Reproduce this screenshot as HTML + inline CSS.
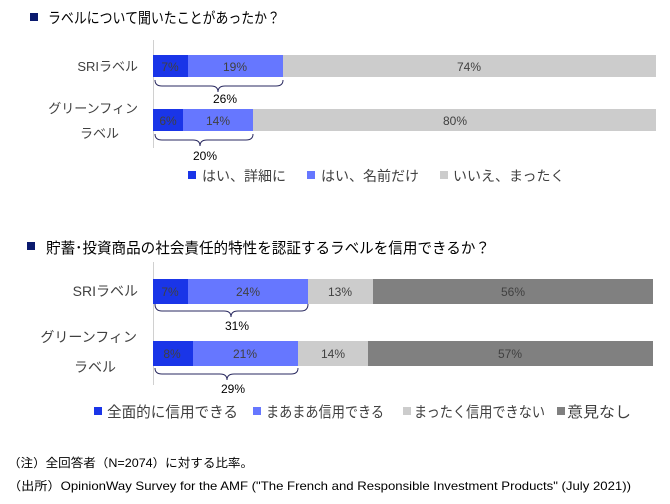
<!DOCTYPE html>
<html><head><meta charset="utf-8"><style>
html,body{margin:0;padding:0;background:#fff;}
svg{display:block;font-family:"Liberation Sans","Noto Sans CJK JP",sans-serif;}
</style></head><body>
<svg width="670" height="504" viewBox="0 0 670 504" xmlns="http://www.w3.org/2000/svg">
<rect x="30" y="13" width="8" height="8" fill="#0a1a6e"/>
<text x="48" y="23" font-size="15" fill="#000" textLength="232" lengthAdjust="spacingAndGlyphs">ラベルについて聞いたことがあったか？</text>
<line x1="153.5" y1="40" x2="153.5" y2="148" stroke="#d0d0d0" stroke-width="1"/>
<rect x="153" y="55" width="35" height="22" fill="#1a35e8"/>
<rect x="188" y="55" width="95" height="22" fill="#6677ff"/>
<rect x="283" y="55" width="373" height="22" fill="#cccccc"/>
<g font-size="12" fill="#404040" text-anchor="middle">
<text x="170" y="71">7%</text><text x="235" y="71">19%</text><text x="469" y="71">74%</text>
</g>
<rect x="153" y="109" width="30" height="22" fill="#1a35e8"/>
<rect x="183" y="109" width="70" height="22" fill="#6677ff"/>
<rect x="253" y="109" width="403" height="22" fill="#cccccc"/>
<g font-size="12" fill="#404040" text-anchor="middle">
<text x="168" y="125">6%</text><text x="218" y="125">14%</text><text x="455" y="125">80%</text>
</g>
<g font-size="13" fill="#404040" text-anchor="end">
<text x="138" y="71">SRIラベル</text>
<text x="138" y="113">グリーンフィン</text>
<text x="119" y="138">ラベル</text>
</g>
<g fill="none" stroke="#2a2a60" stroke-width="1">
<path d="M155,80 Q155,86 162,86 L211,86 Q218,86 218,92 Q218,86 225,86 L276,86 Q283,86 283,80"/>
<path d="M155,134 Q155,140 162,140 L193,140 Q200,140 200,146 Q200,140 207,140 L246,140 Q253,140 253,134"/>
<path d="M155,304 Q155,311 162,311 L224,311 Q231,311 231,317 Q231,311 238,311 L301,311 Q308,311 308,304"/>
<path d="M155,368 Q155,374 162,374 L220,374 Q227,374 227,380 Q227,374 234,374 L291,374 Q298,374 298,368"/>
</g>
<g font-size="12" fill="#000" text-anchor="middle">
<text x="225" y="103">26%</text><text x="205" y="160">20%</text>
<text x="237" y="330">31%</text><text x="233" y="393">29%</text>
</g>
<g font-size="14" fill="#404040">
<rect x="188" y="171" width="8" height="8" fill="#1a35e8"/><text x="202" y="181">はい、詳細に</text>
<rect x="307" y="171" width="8" height="8" fill="#6677ff"/><text x="321" y="181">はい、名前だけ</text>
<rect x="440" y="171" width="8" height="8" fill="#cccccc"/><text x="453" y="181">いいえ、まったく</text>
</g>
<rect x="27" y="242" width="8" height="8" fill="#0a1a6e"/>
<text x="46" y="253" font-size="15" fill="#000" textLength="444" lengthAdjust="spacingAndGlyphs">貯蓄･投資商品の社会責任的特性を認証するラベルを信用できるか？</text>
<line x1="153.5" y1="262" x2="153.5" y2="385" stroke="#d0d0d0" stroke-width="1"/>
<rect x="153" y="279" width="35" height="25" fill="#1a35e8"/>
<rect x="188" y="279" width="120" height="25" fill="#6677ff"/>
<rect x="308" y="279" width="65" height="25" fill="#cccccc"/>
<rect x="373" y="279" width="280" height="25" fill="#808080"/>
<g font-size="12" fill="#404040" text-anchor="middle">
<text x="170" y="296">7%</text><text x="248" y="296">24%</text><text x="340" y="296">13%</text><text x="513" y="296">56%</text>
</g>
<rect x="153" y="341" width="40" height="25" fill="#1a35e8"/>
<rect x="193" y="341" width="105" height="25" fill="#6677ff"/>
<rect x="298" y="341" width="70" height="25" fill="#cccccc"/>
<rect x="368" y="341" width="285" height="25" fill="#808080"/>
<g font-size="12" fill="#404040" text-anchor="middle">
<text x="172" y="358">8%</text><text x="245" y="358">21%</text><text x="333" y="358">14%</text><text x="510" y="358">57%</text>
</g>
<g font-size="14" fill="#404040" text-anchor="end">
<text x="138" y="296">SRIラベル</text>
<text x="137" y="342">グリーンフィン</text>
<text x="116" y="372">ラベル</text>
</g>
<g font-size="15" fill="#404040">
<rect x="94" y="407" width="8" height="8" fill="#1a35e8"/><text x="107" y="417" textLength="131" lengthAdjust="spacingAndGlyphs">全面的に信用できる</text>
<rect x="253" y="407" width="8" height="8" fill="#6677ff"/><text x="266" y="417" textLength="118" lengthAdjust="spacingAndGlyphs">まあまあ信用できる</text>
<rect x="403" y="407" width="8" height="8" fill="#cccccc"/><text x="414" y="417" textLength="131" lengthAdjust="spacingAndGlyphs">まったく信用できない</text>
<rect x="557" y="407" width="8" height="8" fill="#808080"/><text x="567" y="417" textLength="64" lengthAdjust="spacingAndGlyphs">意見なし</text>
</g>
<g font-size="12" fill="#000">
<text x="8" y="467" textLength="245" lengthAdjust="spacingAndGlyphs">（注）全回答者（N=2074）に対する比率。</text>
<text x="8" y="490" textLength="623" lengthAdjust="spacingAndGlyphs">（出所）OpinionWay  Survey for the AMF ("The French and Responsible Investment  Products" (July 2021))</text>
</g>
</svg>
</body></html>
